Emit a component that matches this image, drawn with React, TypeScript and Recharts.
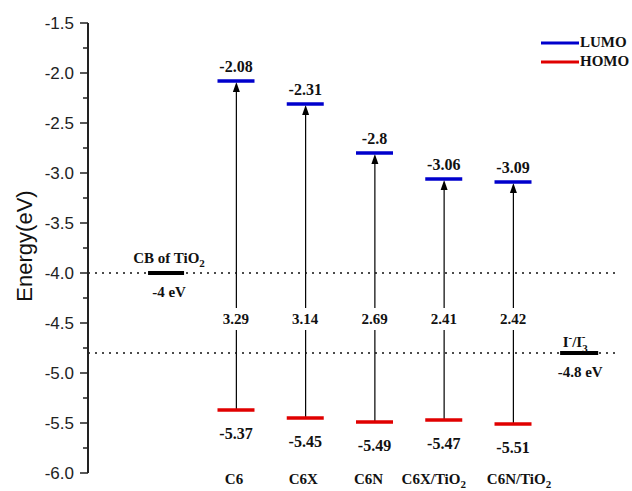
import React from "react";
import {
  ComposedChart,
  Bar,
  Scatter,
  XAxis,
  YAxis,
  ReferenceLine,
  Legend,
} from "recharts";

const categories = ["C6", "C6X", "C6N", "C6X/TiO2", "C6N/TiO2"];
const lumo = [-2.08, -2.31, -2.8, -3.06, -3.09];
const homo = [-5.37, -5.45, -5.49, -5.47, -5.51];
const gaps = [3.29, 3.14, 2.69, 2.41, 2.42];
const yTicks = [
  -6, -5.75, -5.5, -5.25, -5, -4.75, -4.5, -4.25, -4, -3.75, -3.5, -3.25, -3,
  -2.75, -2.5, -2.25, -2, -1.75, -1.5,
];
const cbTiO2 = -4;
const redoxLevel = -4.8;

const LUMO_COLOR = "#0000cc";
const HOMO_COLOR = "#e00000";
const SERIF = "'Liberation Serif', 'Times New Roman', serif";
const SANS = "'Liberation Sans', Arial, sans-serif";
const GAP_LABEL_Y = -4.46;
// the long category names are nudged apart so they don't run together
const xLabelShift = [-2, -2, -6, -10, 6];

const rows = categories.map((name, i) => ({
  i,
  name,
  lumo: lumo[i],
  homo: homo[i],
  gap: gaps[i],
}));

// splits "TiO2" style names so the trailing digit becomes a subscript
function Chem({ text }: { text: string }) {
  const m = text.match(/^(.*TiO)(2)$/);
  if (!m) return <>{text}</>;
  return (
    <>
      <tspan>{m[1]}</tspan>
      <tspan dy={4} fontSize={11}>
        {m[2]}
      </tspan>
    </>
  );
}

function YTick(props: any) {
  const { x, y, payload } = props;
  const v = payload.value as number;
  const major = Math.abs(v * 2 - Math.round(v * 2)) < 1e-6;
  return (
    <g>
      <line x1={x - (major ? 8 : 5)} x2={x} y1={y} y2={y} stroke="#222" strokeWidth={1.5} />
      {major && (
        <text
          x={x - 14}
          y={y}
          textAnchor="end"
          dominantBaseline="central"
          fontFamily={SANS}
          fontSize={17}
          fill="#222"
        >
          {v.toFixed(1)}
        </text>
      )}
    </g>
  );
}

function XTick(props: any) {
  const { x, y, payload } = props;
  const idx = payload.value as number;
  const name = categories[idx] ?? "";
  return (
    <text
      x={x + (xLabelShift[idx] ?? 0)}
      y={y + 11}
      textAnchor="middle"
      fontFamily={SERIF}
      fontWeight="bold"
      fontSize={15}
      fill="#111"
    >
      <Chem text={name} />
    </text>
  );
}

function YLabel(props: any) {
  const vb = props.viewBox || { x: 0, y: 23, width: 88, height: 450 };
  const cx = vb.x + 24;
  const cy = vb.y + vb.height / 2 - 2;
  return (
    <text
      x={cx}
      y={cy}
      transform={`rotate(-90, ${cx}, ${cy})`}
      textAnchor="middle"
      dominantBaseline="central"
      fontFamily={SANS}
      fontSize={22}
      fill="#111"
    >
      Energy(eV)
    </text>
  );
}

function GapArrow(props: any) {
  const { x, y, width, height } = props;
  const cx = x + width / 2;
  const top = Math.min(y, y + height);
  const bottom = Math.max(y, y + height);
  return (
    <g>
      <line x1={cx} x2={cx} y1={bottom} y2={top + 8} stroke="#000" strokeWidth={1.2} />
      <path
        d={`M${cx},${top + 1} L${cx - 3.5},${top + 11} L${cx + 3.5},${top + 11} Z`}
        fill="#000"
      />
    </g>
  );
}

function GapLabel(props: any) {
  const { cx, cy, payload } = props;
  return (
    <g>
      <rect x={cx - 16} y={cy - 11} width={32} height={22} fill="#fff" />
      <text
        x={cx}
        y={cy + 5}
        textAnchor="middle"
        fontFamily={SERIF}
        fontWeight="bold"
        fontSize={15}
        fill="#111"
      >
        {payload.gap.toFixed(2)}
      </text>
    </g>
  );
}

function makeLevel(color: string, key: "lumo" | "homo") {
  return (props: any) => {
    const { cx, cy, payload } = props;
    const above = key === "lumo";
    return (
      <g>
        <line x1={cx - 18.5} x2={cx + 18.5} y1={cy} y2={cy} stroke={color} strokeWidth={3.5} />
        <text
          x={cx}
          y={above ? cy - 9 : cy + 29}
          textAnchor="middle"
          fontFamily={SERIF}
          fontWeight="bold"
          fontSize={16}
          fill="#111"
        >
          {String(payload[key])}
        </text>
      </g>
    );
  };
}

function CbLabel(props: any) {
  const vb = props.viewBox || { x: 148, y: 273, width: 36 };
  const cx = vb.x + vb.width / 2 + 3;
  const cy = vb.y;
  return (
    <g fontFamily={SERIF} fontWeight="bold" fontSize={15} fill="#111">
      <text x={cx} y={cy - 10} textAnchor="middle">
        <Chem text="CB of TiO2" />
      </text>
      <text x={cx} y={cy + 24} textAnchor="middle">
        {`${cbTiO2} eV`}
      </text>
    </g>
  );
}

function RedoxLabel(props: any) {
  const vb = props.viewBox || { x: 560, y: 353, width: 38 };
  const cx = vb.x + vb.width / 2;
  const cy = vb.y;
  return (
    <g fontFamily={SERIF} fontWeight="bold" fontSize={15} fill="#111">
      <text x={cx - 4} y={cy - 6} textAnchor="middle">
        <tspan>I</tspan>
        <tspan dy={-6} fontSize={11}>-</tspan>
        <tspan dy={6}>/I</tspan>
        <tspan dy={5} fontSize={11}>3</tspan>
        <tspan dx={-6} dy={-12} fontSize={11}>-</tspan>
      </text>
      <text x={cx + 1} y={cy + 24} textAnchor="middle">
        {`${redoxLevel} eV`}
      </text>
    </g>
  );
}

const legendOrder = ["LUMO", "HOMO"];
const legendColors: Record<string, string> = { LUMO: LUMO_COLOR, HOMO: HOMO_COLOR };

function renderLegend(props: any) {
  const items = (props.payload || [])
    .filter((e: any) => legendColors[e.value])
    .sort((a: any, b: any) => legendOrder.indexOf(a.value) - legendOrder.indexOf(b.value));
  return (
    <div>
      {items.map((e: any) => (
        <div key={e.value} style={{ display: "flex", alignItems: "center", height: 19 }}>
          <svg width={38} height={4}>
            <line x1={0} x2={38} y1={2} y2={2} stroke={legendColors[e.value]} strokeWidth={3} />
          </svg>
          <span
            style={{
              marginLeft: 1,
              fontFamily: SERIF,
              fontWeight: "bold",
              fontSize: 15,
              color: "#111",
              lineHeight: "19px",
            }}
          >
            {e.value}
          </span>
        </div>
      ))}
    </div>
  );
}

export default function App() {
  return (
    <div style={{ position: "absolute", left: 0, top: 0, background: "#fff" }}>
      <ComposedChart
        width={632}
        height={491}
        data={rows}
        margin={{ top: 23, right: 14, bottom: 0, left: 0 }}
      >
        <XAxis
          dataKey="i"
          type="number"
          domain={[-2.137, 5.516]}
          ticks={[0, 1, 2, 3, 4]}
          interval={0}
          axisLine={false}
          tickLine={false}
          tickSize={0}
          tickMargin={0}
          height={18}
          tick={<XTick />}
        />
        <YAxis
          type="number"
          domain={[-6, -1.5]}
          ticks={yTicks}
          interval={0}
          width={88}
          tickSize={0}
          tickMargin={0}
          tickLine={false}
          axisLine={{ stroke: "#222", strokeWidth: 2 }}
          tick={<YTick />}
          label={<YLabel />}
        />
        <ReferenceLine y={cbTiO2} stroke="#111" strokeWidth={1.5} strokeDasharray="2 5" />
        <ReferenceLine y={redoxLevel} stroke="#111" strokeWidth={1.5} strokeDasharray="2 5" />
        <ReferenceLine
          segment={[
            { x: -1.27, y: cbTiO2 },
            { x: -0.75, y: cbTiO2 },
          ]}
          stroke="#000"
          strokeWidth={4}
          label={<CbLabel />}
        />
        <ReferenceLine
          segment={[
            { x: 4.68, y: redoxLevel },
            { x: 5.23, y: redoxLevel },
          ]}
          stroke="#000"
          strokeWidth={4}
          label={<RedoxLabel />}
        />
        <Bar
          dataKey={(d: any) => [d.homo, d.lumo]}
          barSize={8}
          shape={<GapArrow />}
          legendType="none"
          isAnimationActive={false}
        />
        <Scatter
          dataKey={() => GAP_LABEL_Y}
          shape={<GapLabel />}
          legendType="none"
          isAnimationActive={false}
        />
        <Scatter
          name="LUMO"
          dataKey="lumo"
          fill={LUMO_COLOR}
          shape={makeLevel(LUMO_COLOR, "lumo")}
          isAnimationActive={false}
        />
        <Scatter
          name="HOMO"
          dataKey="homo"
          fill={HOMO_COLOR}
          shape={makeLevel(HOMO_COLOR, "homo")}
          isAnimationActive={false}
        />
        <Legend
          layout="vertical"
          align="center"
          verticalAlign="middle"
          content={renderLegend}
          wrapperStyle={{ top: 33, left: 541, width: 90 }}
        />
      </ComposedChart>
    </div>
  );
}
